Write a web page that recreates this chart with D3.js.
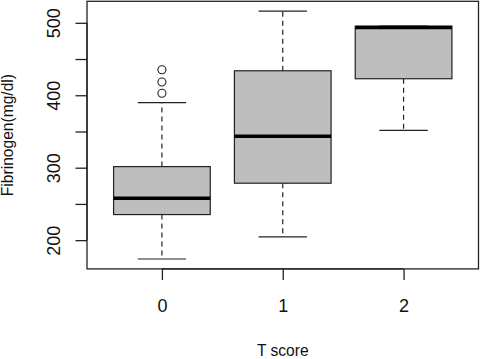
<!DOCTYPE html>
<html>
<head>
<meta charset="utf-8">
<script src="https://cdn.jsdelivr.net/npm/d3@7"></script>
<style>
  html, body { margin: 0; padding: 0; background: #fff; }
  svg { display: block; font-family: "Liberation Sans", Arial, Helvetica, sans-serif; }
</style>
</head>
<body>
<svg id="chart" width="480" height="359"></svg>
<script>
// ---- data ----
const categories = ["0", "1", "2"];
const lowerWhisker = [174, 204.5, 351.5];
const q1 = [235.3, 278.6, 422.8];
const median = [257.9, 343.4, 493.5];
const q3 = [301.5, 433.8, 495.3];
const upperWhisker = [389.7, 516, 495.3];
const outliers = [[402.7, 418.2, 435.2], [], []];
const yTicks = [200, 250, 300, 350, 400, 450, 500];
const yTickLabels = ["200", "", "300", "", "400", "", "500"];
const xTitle = "T score";
const yTitle = "Fibrinogen(mg/dl)";

(function () {
const svg = d3.select("#chart");
const ink = "#222";
const fill = "#bebebe";

// plot region
const pLeft = 87, pRight = 478.5, pTop = 1.3, pBottom = 268.9;

// R-style 4% extension of data range
const allVals = lowerWhisker.concat(upperWhisker, outliers.flat());
const lo = d3.min(allVals), hi = d3.max(allVals);
const pad = (hi - lo) * 0.04;
const y = d3.scaleLinear().domain([lo - pad, hi + pad]).range([pBottom, pTop]);
const n = categories.length;
const xpad = n * 0.04;
const x = d3.scaleLinear().domain([0.5 - xpad, n + 0.5 + xpad]).range([pLeft, pRight]);
const boxW = (x(2) - x(1)) * 0.8;
const capW = boxW / 2;

const g = svg.append("g");

categories.forEach((c, i) => {
  const cx = x(i + 1);
  if (upperWhisker[i] > q3[i]) {
    g.append("line").attr("x1", cx).attr("x2", cx)
      .attr("y1", y(q3[i])).attr("y2", y(upperWhisker[i]))
      .attr("stroke", ink).attr("stroke-width", 1.2).attr("stroke-dasharray", "5,4");
  }
  g.append("line").attr("x1", cx).attr("x2", cx)
    .attr("y1", y(q1[i])).attr("y2", y(lowerWhisker[i]))
    .attr("stroke", ink).attr("stroke-width", 1.2).attr("stroke-dasharray", "5,4");
  g.append("line").attr("x1", cx - capW / 2).attr("x2", cx + capW / 2)
    .attr("y1", y(upperWhisker[i])).attr("y2", y(upperWhisker[i]))
    .attr("stroke", ink).attr("stroke-width", 1.2);
  g.append("line").attr("x1", cx - capW / 2).attr("x2", cx + capW / 2)
    .attr("y1", y(lowerWhisker[i])).attr("y2", y(lowerWhisker[i]))
    .attr("stroke", ink).attr("stroke-width", 1.2);
  g.append("rect").attr("x", cx - boxW / 2).attr("width", boxW)
    .attr("y", y(q3[i])).attr("height", y(q1[i]) - y(q3[i]))
    .attr("fill", fill).attr("stroke", ink).attr("stroke-width", 1.2);
  g.append("line").attr("x1", cx - boxW / 2).attr("x2", cx + boxW / 2)
    .attr("y1", y(median[i])).attr("y2", y(median[i]))
    .attr("stroke", "#000").attr("stroke-width", 3.4);
  g.selectAll(null).data(outliers[i]).enter().append("circle")
    .attr("cx", cx).attr("cy", d => y(d)).attr("r", 4)
    .attr("fill", "none").attr("stroke", ink).attr("stroke-width", 1.1);
});

// frame
svg.append("rect").attr("x", pLeft).attr("y", pTop)
  .attr("width", pRight - pLeft).attr("height", pBottom - pTop)
  .attr("fill", "none").attr("stroke", ink).attr("stroke-width", 1.3);

// y axis
const yAxis = svg.append("g").attr("transform", `translate(${pLeft},0)`)
  .call(d3.axisLeft(y).tickValues(yTicks).tickSize(11.5).tickSizeOuter(0)
    .tickFormat((d, i) => yTickLabels[i]));
yAxis.select(".domain").attr("d", `M0,${y(200)}V${y(500)}`).attr("stroke", ink).attr("stroke-width", 1.3);
yAxis.selectAll(".tick line").attr("stroke", ink).attr("stroke-width", 1.3);
yAxis.selectAll(".tick text")
  .attr("x", 0).attr("dy", 0).attr("y", 0)
  .attr("transform", "translate(-27,0) rotate(-90)")
  .attr("text-anchor", "middle")
  .attr("font-size", 18).attr("fill", "#111")
  .attr("font-family", "Liberation Sans, Arial, sans-serif");

// x axis
const xAxis = svg.append("g").attr("transform", `translate(0,${pBottom})`)
  .call(d3.axisBottom(x).tickValues(d3.range(1, n + 1)).tickSize(11).tickSizeOuter(0)
    .tickFormat((d, i) => categories[i]));
xAxis.select(".domain").attr("d", `M${x(1)},0H${x(n)}`).attr("stroke", ink).attr("stroke-width", 1.3);
xAxis.selectAll(".tick line").attr("stroke", ink).attr("stroke-width", 1.3);
xAxis.selectAll(".tick text")
  .attr("y", 43).attr("dy", 0)
  .attr("font-size", 18).attr("fill", "#111")
  .attr("font-family", "Liberation Sans, Arial, sans-serif");

// titles
svg.append("text").attr("x", x(2)).attr("y", 355.5)
  .attr("text-anchor", "middle").attr("font-size", 15.6).attr("fill", "#111")
  .text(xTitle);
svg.append("text")
  .attr("transform", `translate(13,${(pTop + pBottom) / 2}) rotate(-90)`)
  .attr("text-anchor", "middle").attr("font-size", 15.6).attr("fill", "#111")
  .text(yTitle);
})();
</script>
</body>
</html>
